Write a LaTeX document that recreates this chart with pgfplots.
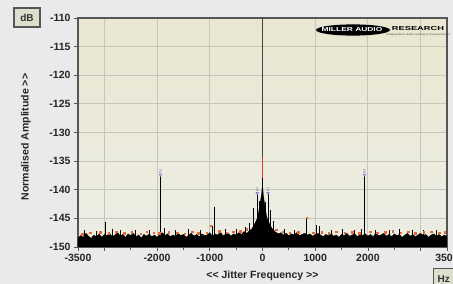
\documentclass[border=0pt]{standalone}
\usepackage{fontspec}
\setmainfont{Liberation Sans}
\usepackage{graphicx}
\usepackage{pgfplots}
\pgfplotsset{compat=1.18}
\definecolor{outerbg}{RGB}{233,234,236}
\definecolor{plottop}{RGB}{233,231,208}
\definecolor{plotbot}{RGB}{237,237,229}
\definecolor{gridc}{RGB}{198,198,186}
\definecolor{axisc}{RGB}{85,85,85}
\definecolor{orangec}{RGB}{232,105,45}
\definecolor{redc}{RGB}{215,60,30}
\definecolor{markc}{RGB}{125,110,205}
\definecolor{boxc}{RGB}{222,222,204}
\begin{document}
\begin{tikzpicture}
\useasboundingbox (-78pt,-37pt) rectangle (375pt,247pt);
\clip (-78pt,-37pt) rectangle (375pt,247pt);
\fill[outerbg] (-78pt,-37pt) rectangle (375pt,247pt);
\begin{axis}[
  scale only axis, width=369pt, height=229pt,
  xmin=-3500, xmax=3500, ymin=-150, ymax=-110,
  axis background/.style={top color=plottop, bottom color=plotbot},
  axis line style={draw=axisc, line width=1.3pt},
  xtick={-3500,-3000,-2000,-1000,0,1000,2000,3000,3500},
  xticklabels={-3500,,-2000,-1000,0,1000,2000,,3500},
  minor xtick={-2500,-1500,-500,500,1500,2500},
  ytick={-150,-145,-140,-135,-130,-125,-120,-115,-110},
  yticklabels={-150,-145,-140,-135,-130,-125,-120,-115,-110},
  xtick pos=bottom, ytick pos=left,
  xmajorgrids, ymajorgrids,
  major grid style={draw=gridc, line width=0.9pt},
  tick align=outside, major tick length=4pt, minor tick length=3pt,
  tick style={draw=axisc, line width=0.8pt},
  ticklabel style={font=\fontsize{10.5}{10.5}\selectfont\bfseries, text=black!85},
  xlabel={<\kern0pt< Jitter Frequency >\kern0pt>},
  ylabel={Normalised Amplitude >\kern0pt>},
  label style={font=\fontsize{10.5}{11}\selectfont\bfseries, text=black!85},
  xlabel style={at={(axis description cs:0.5,-0.127)}, anchor=center},
  ylabel style={at={(axis description cs:-0.141,0.48)}, anchor=center},
  clip=true,
]
% zero line
\addplot[draw=axisc!80!black, line width=0.9pt] coordinates {(0,-150) (0,-110)};
% red central trace
\addplot[draw=redc, line width=1.7pt] coordinates {(0,-150) (0,-134.3)};
% black noise floor
\addplot[fill=black, draw=black, line width=0.3pt] coordinates {
(-3500,-150) (-3500,-148.4) (-3450,-148.0) (-3400,-148.3) (-3350,-147.6) (-3300,-148.1)
(-3250,-148.5) (-3200,-147.9) (-3150,-148.2) (-3100,-147.7) (-3050,-148.3) (-3000,-147.8)
(-2950,-148.0) (-2900,-147.6) (-2850,-148.2) (-2800,-147.9) (-2750,-147.4) (-2700,-148.1)
(-2650,-147.8) (-2600,-148.3) (-2550,-147.7) (-2500,-148.0) (-2450,-147.6) (-2400,-148.2)
(-2350,-147.9) (-2300,-148.4) (-2250,-147.8) (-2200,-148.1) (-2150,-147.7) (-2100,-148.2)
(-2050,-147.9) (-2000,-148.3) (-1950,-147.8) (-1900,-147.5) (-1850,-148.0) (-1800,-147.7)
(-1750,-148.2) (-1700,-147.9) (-1650,-148.1) (-1600,-147.6) (-1550,-148.0) (-1500,-147.8)
(-1450,-148.3) (-1400,-147.9) (-1350,-147.6) (-1300,-148.1) (-1250,-147.8) (-1200,-148.2)
(-1150,-147.7) (-1100,-148.0) (-1050,-147.9) (-1000,-147.5) (-950,-148.1) (-900,-147.7)
(-850,-147.9) (-800,-147.4) (-750,-148.0) (-700,-147.8) (-650,-147.6) (-600,-148.1)
(-550,-147.7) (-500,-147.9) (-450,-147.5) (-400,-147.8) (-350,-147.3) (-300,-147.6)
(-250,-147.2) (-200,-146.8) (-150,-146.0) (-100,-145.0) (-75,-144.0) (-50,-142.5)
(-30,-141.5) (-15,-140.5) (0,-139.0) (15,-140.8) (30,-141.8) (50,-143.0) (75,-144.5)
(100,-145.3) (150,-146.3) (200,-147.0) (250,-147.4) (300,-147.7) (350,-147.5)
(400,-147.9) (450,-147.6) (500,-148.0) (550,-147.7) (600,-147.9) (650,-147.5)
(700,-148.0) (750,-147.8) (800,-147.6) (850,-147.9) (900,-147.7) (950,-148.1)
(1000,-147.8) (1050,-147.6) (1100,-147.9) (1150,-148.2) (1200,-147.8) (1250,-148.0)
(1300,-147.7) (1350,-148.1) (1400,-147.9) (1450,-148.3) (1500,-147.8) (1550,-148.0)
(1600,-147.6) (1650,-148.1) (1700,-147.9) (1750,-147.7) (1800,-148.2) (1850,-147.8)
(1900,-148.0) (1950,-147.7) (2000,-148.1) (2050,-147.8) (2100,-148.2) (2150,-147.6)
(2200,-148.0) (2250,-147.9) (2300,-147.6) (2350,-148.1) (2400,-147.8) (2450,-148.2)
(2500,-147.7) (2550,-148.0) (2600,-147.8) (2650,-148.3) (2700,-147.9) (2750,-147.6)
(2800,-148.1) (2850,-147.8) (2900,-148.2) (2950,-147.9) (3000,-147.6) (3050,-148.0)
(3100,-147.8) (3150,-148.3) (3200,-147.9) (3250,-147.7) (3300,-148.1) (3350,-147.8)
(3400,-148.2) (3450,-147.9) (3500,-148.1) (3500,-150)
};
% orange trace tips
\addplot[only marks, mark=square*, mark size=0.75pt, color=orangec] coordinates {
(-3420,-147.8) (-3270,-147.5) (-3080,-147.4) (-2920,-147.6) (-2780,-147.3) (-2620,-147.6)
(-2480,-147.4) (-2310,-147.7) (-2200,-147.3) (-2060,-147.5) (-1960,-147.6) (-1780,-147.4)
(-1620,-147.5) (-1480,-147.7) (-1330,-147.3) (-1220,-147.6) (-1060,-147.5) (-985,-146.3)
(-820,-147.2) (-680,-147.5) (-560,-147.3) (-420,-147.2) (-300,-146.9) (260,-147.0)
(380,-147.3) (520,-147.5) (680,-147.4) (835,-144.9) (960,-147.5) (1120,-147.4)
(1260,-147.6) (1400,-147.3) (1560,-147.5) (1700,-147.4) (1830,-147.6) (2040,-147.3)
(2180,-147.5) (2330,-147.4) (2470,-147.2) (2620,-147.5) (2760,-147.3) (2900,-147.6)
(3060,-147.4) (3200,-147.3) (3350,-147.5) (3460,-147.4)
};
% discrete spikes
\addplot[draw=black, line width=0.7pt, unbounded coords=jump] coordinates {
(-3380,-150) (-3380,-147.0) (-3380,nan)
(-3150,-150) (-3150,-147.2) (-3150,nan)
(-2990,-150) (-2990,-145.6) (-2990,nan)
(-2850,-150) (-2850,-146.8) (-2850,nan)
(-2700,-150) (-2700,-147.0) (-2700,nan)
(-2420,-150) (-2420,-147.1) (-2420,nan)
(-2150,-150) (-2150,-147.0) (-2150,nan)
(-1935,-150) (-1935,-137.4) (-1935,nan)
(-1870,-150) (-1870,-146.6) (-1870,nan)
(-1650,-150) (-1650,-147.0) (-1650,nan)
(-1400,-150) (-1400,-146.9) (-1400,nan)
(-1180,-150) (-1180,-147.1) (-1180,nan)
(-960,-150) (-960,-146.3) (-960,nan)
(-910,-150) (-910,-143.1) (-910,nan)
(-700,-150) (-700,-146.8) (-700,nan)
(-500,-150) (-500,-146.9) (-500,nan)
(-330,-150) (-330,-146.5) (-330,nan)
(-240,-150) (-240,-145.8) (-240,nan)
(-170,-150) (-170,-143.2) (-170,nan)
(-100,-150) (-100,-140.6) (-100,nan)
(-60,-150) (-60,-142.0) (-60,nan)
(0,-150) (0,-138.0) (0,nan)
(60,-150) (60,-142.2) (60,nan)
(105,-150) (105,-140.6) (105,nan)
(150,-150) (150,-143.5) (150,nan)
(200,-150) (200,-145.5) (200,nan)
(420,-150) (420,-146.9) (420,nan)
(600,-150) (600,-147.0) (600,nan)
(835,-150) (835,-144.9) (835,nan)
(1018,-150) (1018,-146.2) (1018,nan)
(1080,-150) (1080,-146.4) (1080,nan)
(1300,-150) (1300,-147.0) (1300,nan)
(1520,-150) (1520,-146.9) (1520,nan)
(1750,-150) (1750,-147.1) (1750,nan)
(1880,-150) (1880,-146.9) (1880,nan)
(1935,-150) (1935,-137.4) (1935,nan)
(2150,-150) (2150,-147.0) (2150,nan)
(2400,-150) (2400,-147.0) (2400,nan)
(2600,-150) (2600,-146.9) (2600,nan)
(2850,-150) (2850,-147.1) (2850,nan)
(3050,-150) (3050,-147.0) (3050,nan)
(3300,-150) (3300,-147.1) (3300,nan)
};
% harmonic markers
\addplot[only marks, mark=triangle*, mark size=1.5pt,
  mark options={rotate=180, fill=markc!35, draw=markc, line width=0.4pt},
  point meta=explicit symbolic, nodes near coords,
  nodes near coords style={font=\fontsize{5.5}{5.5}\selectfont, text=markc, anchor=south, inner sep=0.6pt, yshift=1pt}]
coordinates {(-1935,-137.4) [2] (1935,-137.4) [2] (-100,-140.6) [1] (105,-140.6) [1]};
\end{axis}
% logo
\fill[black] (275pt,217pt) ellipse (37pt and 5.6pt);
\node[white, inner sep=0pt] at (274pt,217pt) {\scalebox{1.45}[1]{\fontsize{5.8}{5.8}\selectfont\bfseries MILLER AUDIO}};
\node[black, inner sep=0pt] at (340pt,218pt) {\scalebox{1.6}[1]{\fontsize{5.8}{5.8}\selectfont\bfseries RESEARCH}};
\node[black!70, inner sep=0pt] at (340pt,212pt) {\scalebox{1.3}[1]{\fontsize{2.6}{2.6}\selectfont independent audio testing \& measurement}};
% unit boxes
\node[draw=axisc, line width=1.2pt, fill=boxc, minimum width=26pt, minimum height=19pt, inner sep=0pt,
  font=\fontsize{10}{10}\selectfont\bfseries, text=black!80] at (-51pt,229.5pt) {dB};
\node[draw=axisc, line width=1.2pt, fill=boxc, minimum width=30pt, minimum height=20pt, inner sep=0pt, anchor=north west,
  font=\fontsize{10}{10}\selectfont\bfseries, text=black!80, text width=26pt, align=left] at (355pt,-21pt) {\hspace{2pt}Hz};
\end{tikzpicture}
\end{document}
